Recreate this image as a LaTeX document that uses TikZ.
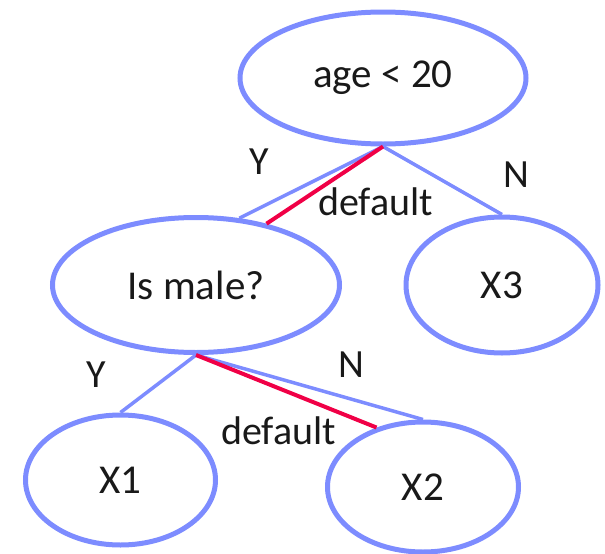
\documentclass[tikz,border=0pt]{standalone}
\usepackage{fontspec}
\setmainfont{Carlito}
\usetikzlibrary{shapes.geometric}
\definecolor{nodeblue}{RGB}{125,140,255}
\definecolor{defred}{RGB}{240,0,70}
\tikzset{
  treenode/.style={ellipse, draw=nodeblue, line width=5pt, inner sep=0pt, font=\fontsize{41}{48}\selectfont, text=black!90},
  edgeline/.style={draw=nodeblue, line width=3.5pt},
  defline/.style={draw=defred, line width=4pt},
  edgelabel/.style={inner sep=0pt, font=\fontsize{40}{46}\selectfont, text=black!90}
}
\begin{document}
\begin{tikzpicture}[x=1pt,y=-1pt]
\useasboundingbox (0,0) rectangle (605,554);
\node[treenode, minimum width=286pt, minimum height=132pt] (age) at (383,78) {age < 20};
\node[treenode, minimum width=287pt, minimum height=135pt] (male) at (196,285) {Is male?};
\node[treenode, minimum width=192pt, minimum height=136pt] (x3) at (502,285) {X3};
\node[treenode, minimum width=190pt, minimum height=130pt] (x1) at (120.5,480) {X1};
\node[treenode, minimum width=191pt, minimum height=130pt] (x2) at (423,487) {X2};
\draw[edgeline] (age.south) -- (male.57.5);
\draw[edgeline] (age.south) -- (x3.north);
\draw[defline] (age.south) -- (male.41);
\draw[edgeline] (male.south) -- (x1.north);
\draw[edgeline] (male.south) -- (x2.north);
\draw[defline] (male.south) -- (x2.128);
\node[edgelabel] (y1) at (259,162) {Y};
\node[edgelabel] (n1) at (516,175) {N};
\node[edgelabel, anchor=base west] (d1) at (318,215) {default};
\node[edgelabel] (y2) at (96,375) {Y};
\node[edgelabel] (n2) at (351,365) {N};
\node[edgelabel, anchor=base west] (d2) at (221,444) {default};
\end{tikzpicture}
\end{document}
